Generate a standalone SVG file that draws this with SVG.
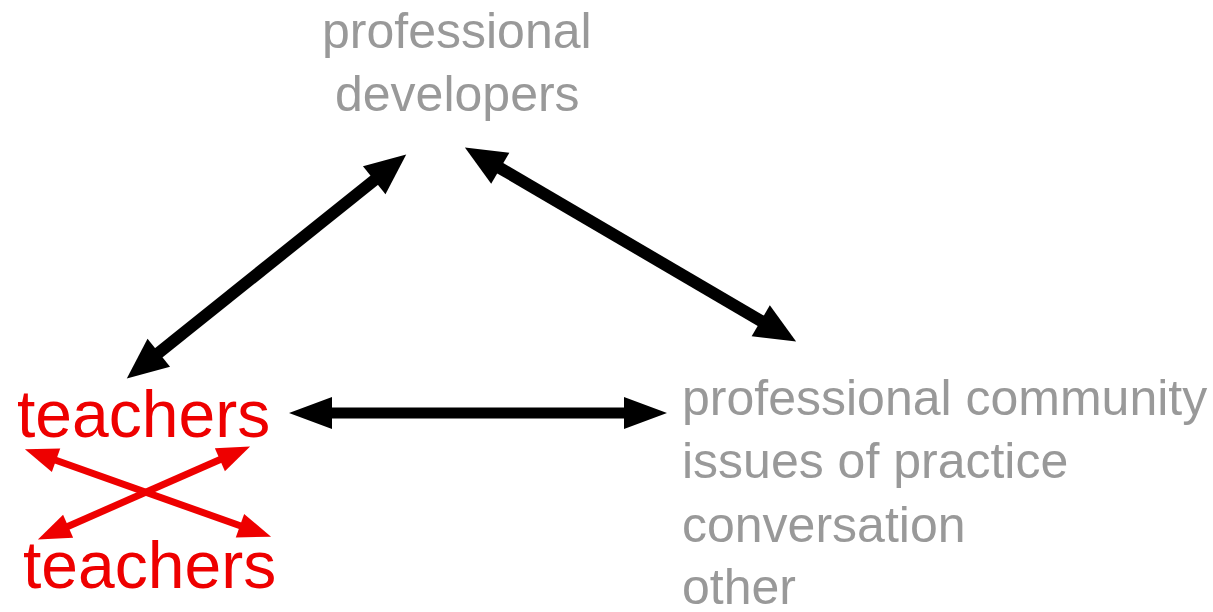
<svg xmlns="http://www.w3.org/2000/svg" width="1213" height="612" viewBox="0 0 1213 612">
<style>
  .gray { font-family: "Liberation Sans", Arial, sans-serif; font-size: 50px; fill: #999999; }
  .red { font-family: "Liberation Sans", Arial, sans-serif; font-size: 66px; fill: #ee0000; }
  .blk { stroke: #000; stroke-width: 12; fill: none; }
  .blkh { stroke: #000; stroke-width: 11; fill: none; }
  .rd { stroke: #ee0000; stroke-width: 7; fill: none; }
</style>
<defs>
  <marker id="hb" markerUnits="userSpaceOnUse" markerWidth="42" markerHeight="37" refX="1" refY="18" orient="auto-start-reverse" overflow="visible">
    <path d="M0,0 L41,18 L0,36 z" fill="#000"/>
  </marker>
  <marker id="hh" markerUnits="userSpaceOnUse" markerWidth="44" markerHeight="33" refX="1" refY="16" orient="auto-start-reverse" overflow="visible">
    <path d="M0,0 L43,16 L0,32 z" fill="#000"/>
  </marker>
  <marker id="hr" markerUnits="userSpaceOnUse" markerWidth="34" markerHeight="26" refX="1" refY="12.5" orient="auto-start-reverse" overflow="visible">
    <path d="M0,0 L33,12.5 L0,25 z" fill="#ee0000"/>
  </marker>
</defs>
<g id="node-developers">
  <text class="gray" x="322" y="48">professional</text>
  <text class="gray" x="335" y="111">developers</text>
</g>
<g id="node-community">
  <text class="gray" x="682" y="415">professional community</text>
  <text class="gray" x="682" y="478">issues of practice</text>
  <text class="gray" x="682" y="542">conversation</text>
  <text class="gray" x="682" y="604">other</text>
</g>
<g id="node-teachers-top">
  <text class="red" x="17" y="437">teachers</text>
</g>
<g id="node-teachers-bottom">
  <text class="red" x="23" y="588">teachers</text>
</g>
<g id="connectors">
  <line class="blk" x1="158" y1="353.4" x2="375" y2="179.6" marker-start="url(#hb)" marker-end="url(#hb)"/>
  <line class="blk" x1="499.4" y1="167.7" x2="761.6" y2="321.3" marker-start="url(#hb)" marker-end="url(#hb)"/>
  <line class="blkh" x1="331" y1="413" x2="625" y2="413" marker-start="url(#hh)" marker-end="url(#hh)"/>
  <line class="rd" x1="55.1" y1="460" x2="240.9" y2="526" marker-start="url(#hr)" marker-end="url(#hr)"/>
  <line class="rd" x1="220.8" y1="459.3" x2="67.2" y2="526.7" marker-start="url(#hr)" marker-end="url(#hr)"/>
</g>
</svg>
